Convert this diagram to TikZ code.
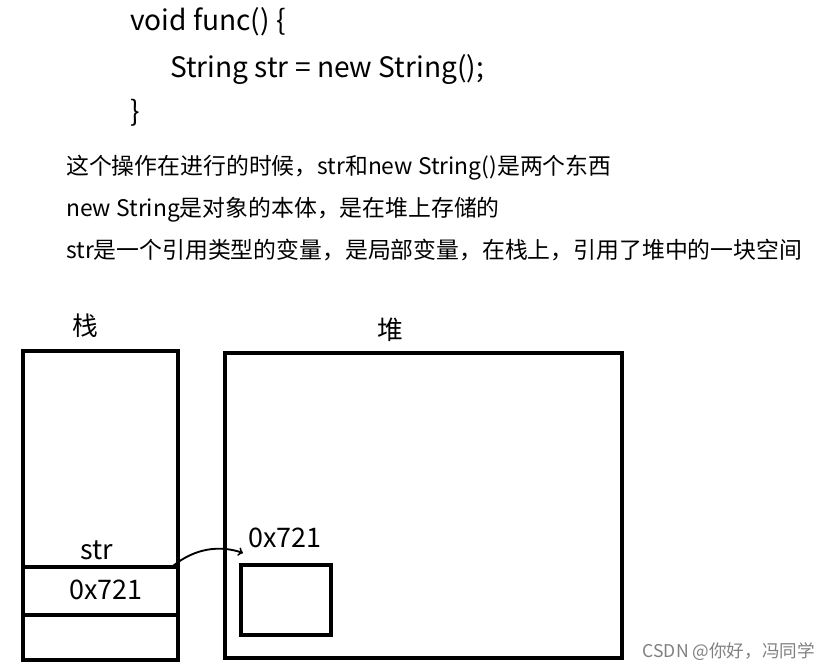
\documentclass[tikz,border=0pt]{standalone}
\usepackage{fontspec}
\setmainfont{Noto Sans CJK SC}
\usetikzlibrary{positioning}
\begin{document}
\begin{tikzpicture}[x=0.03cm,y=-0.03cm]
	\tikzstyle{every node} = [inner sep=0pt,anchor=west]
	\tikzstyle{box} = [draw=black,line width=3.3pt]
	\useasboundingbox (0,0) rectangle (830,671);
	
	\node (L1) at (130,22) {\fontsize{24}{27}\selectfont void func() \{};
	\node (L2) at (170,70) {\fontsize{24}{27}\selectfont String str = new String();};
	\node (L3) at (130,113) {\fontsize{24}{27}\selectfont \}};
	
	\node (T1) at (66,168) {\fontsize{19.5}{22}\selectfont 这个操作在进行的时候，str和new String()是两个东西};
	\node (T2) at (66,210) {\fontsize{19.5}{22}\selectfont new String是对象的本体，是在堆上存储的};
	\node (T3) at (66,250) {\fontsize{19.5}{22}\selectfont str是一个引用类型的变量，是局部变量，在栈上，引用了堆中的一块空间};
	
	\node[anchor=center] (Zhan) at (85,326) {\fontsize{22}{24}\selectfont 栈};
	\node[anchor=center] (Dui) at (390,330) {\fontsize{22}{24}\selectfont 堆};
	
	\draw[box] (23,351) rectangle (178,660);
	\draw[box] (23,567) -- (178,567);
	\draw[box] (23,615) -- (178,615);
	\draw[box] (225,353) rectangle (622,658);
	\draw[box] (241,565) rectangle (331,635);
	
	\node[anchor=center] (Str) at (97,550) {\fontsize{23}{26}\selectfont str};
	\node[anchor=center] (Ref) at (106,590) {\fontsize{23}{26}\selectfont 0x721};
	\node[anchor=center] (Addr) at (285,538) {\fontsize{23}{26}\selectfont 0x721};
	\coordinate (From) at (173,566);
	\coordinate (To) at (243,553);
	\draw[->,line width=1.6pt] (From) .. controls (195,548) and (220,545) .. (To);
	
	\node[anchor=east,text=gray] (Mark) at (815,652) {\fontsize{15}{17}\selectfont CSDN @你好，冯同学};
\end{tikzpicture}
\end{document}
